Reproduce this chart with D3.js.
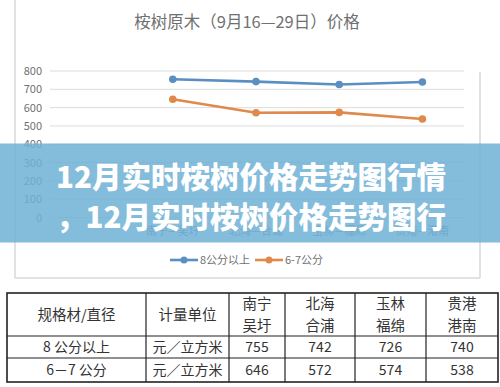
<!DOCTYPE html>
<html>
<head>
<meta charset="utf-8">
<script src="https://cdn.jsdelivr.net/npm/d3@7"></script>
<style>
  body { margin: 0; background: #fff; }
  svg { display: block; font-family: "Noto Sans CJK SC", "Noto Sans", sans-serif; }
</style>
</head>
<body>
<div id="chart"></div>
<script>
// chart data
const title = '桉树原木（9月16—29日）价格';
const categories = ['', '南宁—吴圩', '北海—合浦', '玉林—福绵', '贵港—港南'];
const seriesNames = ['8公分以上', '6-7公分'];
const seriesColors = ['#5b8fc1', '#e0894c'];
const big = [755, 742, 726, 740];
const small = [646, 572, 574, 538];
const yTicks = [0, 100, 200, 300, 400, 500, 600, 700, 800];

// table data
const headCols = ['规格材/直径', '计量单位', '南宁\n吴圩', '北海\n合浦', '玉林\n福绵', '贵港\n港南'];
const rowLabels = ['8 公分以上', '6－7 公分'];
const unit = '元／立方米';

// banner text
const bannerLines = ['12月实时桉树价格走势图行情', '，12月实时桉树价格走势图行'];

const W = 500, H = 387;
const svg = d3.select('#chart').append('svg').attr('width', W).attr('height', H);

// chart frame (right edge only visible from the gridlines down)
const frame = svg.append('g').attr('stroke', '#d9d9d9').attr('stroke-width', 1.5);
frame.append('line').attr('x1', 15).attr('x2', 15).attr('y1', 0).attr('y2', 278);
frame.append('line').attr('x1', 15).attr('x2', 480).attr('y1', 278).attr('y2', 278);
frame.append('line').attr('x1', 480).attr('x2', 480).attr('y1', 72).attr('y2', 278);

svg.append('text')
  .attr('x', 247).attr('y', 28)
  .attr('text-anchor', 'middle')
  .attr('font-size', 16.5)
  .attr('fill', '#707070')
  .text(title);

const x = d3.scaleBand().domain(categories).range([48, 464]);
const y = d3.scaleLinear().domain([0, 800]).range([217.5, 71]);

// grid
svg.append('g')
  .selectAll('line')
  .data(yTicks)
  .enter().append('line')
  .attr('x1', 50).attr('x2', 464)
  .attr('y1', d => y(d)).attr('y2', d => y(d))
  .attr('stroke', '#dcdcdc').attr('stroke-width', 1);

// y labels
svg.append('g')
  .call(d3.axisLeft(y).tickValues(yTicks).tickSize(0).tickPadding(0))
  .attr('transform', 'translate(42,0)')
  .call(g => g.select('.domain').remove())
  .call(g => g.selectAll('text')
    .attr('font-size', 11).attr('fill', '#707070')
    .attr('font-family', '"Noto Sans CJK SC", sans-serif'));

// x labels
svg.append('g')
  .attr('transform', 'translate(0,' + y(0) + ')')
  .call(d3.axisBottom(x).tickSize(0).tickPadding(10))
  .call(g => g.select('.domain').remove())
  .call(g => g.selectAll('text')
    .attr('font-size', 11).attr('fill', '#7a7a7a')
    .attr('font-family', '"Noto Sans CJK SC", sans-serif'));

const cx = i => x(categories[i + 1]) + x.bandwidth() / 2;
const line = d3.line().x((d, i) => cx(i)).y(d => y(d));

[big, small].forEach((vals, s) => {
  svg.append('path')
    .attr('d', line(vals))
    .attr('fill', 'none')
    .attr('stroke', seriesColors[s])
    .attr('stroke-width', 2.6);
  svg.append('g')
    .selectAll('circle')
    .data(vals)
    .enter().append('circle')
    .attr('cx', (d, i) => cx(i))
    .attr('cy', d => y(d))
    .attr('r', 3.8)
    .attr('fill', seriesColors[s]);
});

// legend
const legend = svg.append('g').attr('transform', 'translate(170,260)');
const legendX = [0, 85];
seriesNames.forEach((name, s) => {
  const g = legend.append('g').attr('transform', 'translate(' + legendX[s] + ',0)');
  g.append('line').attr('x1', 0).attr('x2', 28).attr('stroke', seriesColors[s]).attr('stroke-width', 2.6);
  g.append('circle').attr('cx', 14).attr('r', 3.5).attr('fill', seriesColors[s]);
  g.append('text').attr('x', 30).attr('y', 4).attr('font-size', 11).attr('fill', '#707070').text(name);
});

// banner
svg.append('rect')
  .attr('x', 0).attr('y', 143.5).attr('width', W).attr('height', 99)
  .attr('fill', 'rgb(110,176,214)').attr('opacity', 0.85);

svg.append('g')
  .selectAll('text')
  .data(bannerLines)
  .enter().append('text')
  .attr('x', 251).attr('y', (d, i) => 188 + i * 40)
  .attr('text-anchor', 'middle')
  .attr('font-size', 29.5)
  .attr('font-weight', 900)
  .attr('fill', '#fff')
  .text(d => d);

// table
const colX = [7, 146, 229, 285, 355, 426, 498];
const rowY = [293, 336, 358, 382];
const table = svg.append('g');
table.append('rect')
  .attr('x', colX[0]).attr('y', rowY[0])
  .attr('width', colX[6] - colX[0]).attr('height', rowY[3] - rowY[0])
  .attr('fill', 'none').attr('stroke', '#222').attr('stroke-width', 1.6);
colX.slice(1, 6).forEach(cxv => table.append('line')
  .attr('x1', cxv).attr('x2', cxv).attr('y1', rowY[0]).attr('y2', rowY[3])
  .attr('stroke', '#222').attr('stroke-width', 1.2));
rowY.slice(1, 3).forEach(ry => table.append('line')
  .attr('x1', colX[0]).attr('x2', colX[6]).attr('y1', ry).attr('y2', ry)
  .attr('stroke', '#222').attr('stroke-width', 1.2));

const mid = i => (colX[i] + colX[i + 1]) / 2;
headCols.forEach((h, i) => {
  const parts = h.split('\n');
  parts.forEach((p, k) => {
    table.append('text')
      .attr('x', mid(i))
      .attr('y', parts.length === 1 ? 320 : 309 + k * 22)
      .attr('text-anchor', 'middle')
      .attr('font-size', 14.5).attr('fill', '#333')
      .text(p);
  });
});
const rows = [big, small];
rowLabels.forEach((lab, r) => {
  const by = (rowY[r + 1] + rowY[r + 2]) / 2 + 5;
  const cells = [lab, unit].concat(rows[r].map(String));
  cells.forEach((c, i) => {
    table.append('text')
      .attr('x', mid(i)).attr('y', by)
      .attr('text-anchor', 'middle')
      .attr('font-size', 14).attr('fill', '#333')
      .text(c);
  });
});
</script>
</body>
</html>
